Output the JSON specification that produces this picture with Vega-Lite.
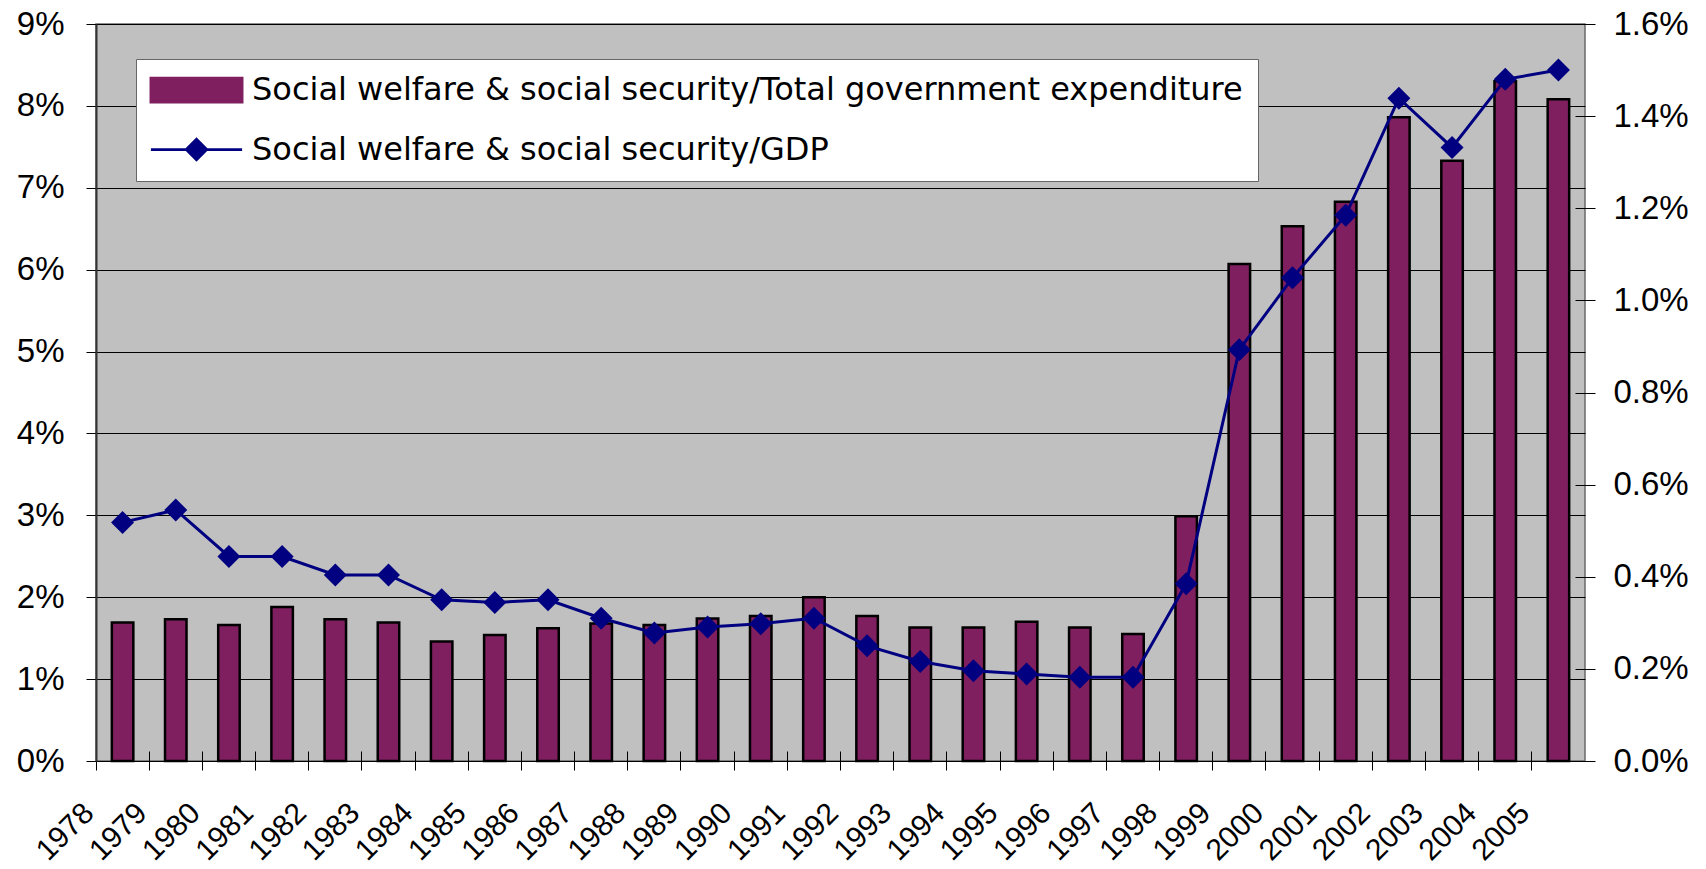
{
  "$schema": "https://vega.github.io/schema/vega-lite/v6.json",
  "width": 1489,
  "height": 737,
  "autosize": "none",
  "padding": {"left": 96, "top": 24, "right": 121, "bottom": 108},
  "background": "white",
  "config": {
    "font": "Liberation Sans",
    "view": {"fill": "#C0C0C0", "stroke": "#6A6A6A", "strokeWidth": 1.5},
    "axis": {"labelFont": "Liberation Sans", "labelFontSize": 33, "labelColor": "black", "titleFontSize": 20}
  },
  "data": {
    "values": [
      {"year": "1978", "exp": 1.69, "gdp": 0.518},
      {"year": "1979", "exp": 1.73, "gdp": 0.545},
      {"year": "1980", "exp": 1.66, "gdp": 0.444},
      {"year": "1981", "exp": 1.88, "gdp": 0.444},
      {"year": "1982", "exp": 1.73, "gdp": 0.404},
      {"year": "1983", "exp": 1.69, "gdp": 0.404},
      {"year": "1984", "exp": 1.46, "gdp": 0.350},
      {"year": "1985", "exp": 1.54, "gdp": 0.344},
      {"year": "1986", "exp": 1.62, "gdp": 0.350},
      {"year": "1987", "exp": 1.68, "gdp": 0.310},
      {"year": "1988", "exp": 1.66, "gdp": 0.278},
      {"year": "1989", "exp": 1.74, "gdp": 0.291},
      {"year": "1990", "exp": 1.77, "gdp": 0.298},
      {"year": "1991", "exp": 2.00, "gdp": 0.310},
      {"year": "1992", "exp": 1.77, "gdp": 0.250},
      {"year": "1993", "exp": 1.63, "gdp": 0.216},
      {"year": "1994", "exp": 1.63, "gdp": 0.196},
      {"year": "1995", "exp": 1.70, "gdp": 0.189},
      {"year": "1996", "exp": 1.63, "gdp": 0.182},
      {"year": "1997", "exp": 1.55, "gdp": 0.182},
      {"year": "1998", "exp": 2.99, "gdp": 0.385},
      {"year": "1999", "exp": 6.07, "gdp": 0.893},
      {"year": "2000", "exp": 6.53, "gdp": 1.049},
      {"year": "2001", "exp": 6.83, "gdp": 1.185},
      {"year": "2002", "exp": 7.86, "gdp": 1.439},
      {"year": "2003", "exp": 7.33, "gdp": 1.332},
      {"year": "2004", "exp": 8.30, "gdp": 1.480},
      {"year": "2005", "exp": 8.08, "gdp": 1.500}
    ]
  },
  "encoding": {
    "x": {
      "field": "year",
      "type": "ordinal",
      "scale": {"paddingInner": 0, "paddingOuter": 0},
      "axis": {
        "title": null,
        "bandPosition": 0,
        "offset": -10,
        "domain": false,
        "labelAngle": -45,
        "labelAlign": "right",
        "labelBaseline": "middle",
        "labelFontSize": 30,
        "labelOffset": -33.5,
        "labelPadding": 38,
        "tickSize": 19,
        "tickColor": "black",
        "grid": false
      }
    }
  },
  "layer": [
    {
      "mark": {"type": "bar", "stroke": "black", "strokeWidth": 2.5, "size": 21.5},
      "encoding": {
        "y": {
          "field": "exp",
          "type": "quantitative",
          "scale": {"domain": [0, 9], "nice": false},
          "axis": {
            "orient": "left",
            "title": null,
            "values": [0, 1, 2, 3, 4, 5, 6, 7, 8, 9],
            "labelExpr": "datum.value + '%'",
            "grid": true,
            "gridColor": "black",
            "gridWidth": 1,
            "domainColor": "#333333",
            "domainWidth": 2,
            "tickColor": "black",
            "tickSize": 10,
            "labelPadding": 22
          }
        },
        "color": {
          "datum": "Social welfare & social security/Total government expenditure",
          "type": "nominal",
          "scale": {
            "domain": ["Social welfare & social security/Total government expenditure", "Social welfare & social security/GDP"],
            "range": ["#7F1F5F", "#000080"]
          },
          "legend": {
            "title": null,
            "orient": "none",
            "legendX": 40,
            "legendY": 35,
            "fillColor": "white",
            "strokeColor": "#666666",
            "padding": 15,
            "labelFont": "DejaVu Sans",
            "labelFontSize": 32,
            "labelColor": "black",
            "labelLimit": 1200,
            "symbolSize": 576,
            "symbolOffset": 29.5,
            "labelOffset": 39.5,
            "rowPadding": 25.5,
            "symbolStrokeWidth": 2.75,
            "symbolType": {"expr": "indexof(datum.label, 'GDP') >= 0 ? 'M-3.8,0H-0.85M0,-0.85L0.85,0L0,0.85L-0.85,0ZM0.85,0H3.8' : 'M-3.8,-1H3.8V1H-3.8Z'"},
            "symbolFillColor": {"expr": "indexof(datum.label, 'GDP') >= 0 ? '#000080' : '#7F1F5F'"},
            "symbolStrokeColor": {"expr": "indexof(datum.label, 'GDP') >= 0 ? '#000080' : 'black'"},
            "encode": {
              "legend": {"strokeWidth": {"value": 1.5}}
            }
          }
        }
      }
    },
    {
      "mark": {
        "type": "line",
        "strokeWidth": 3,
        "point": {"shape": "diamond", "size": 529, "filled": true}
      },
      "encoding": {
        "y": {
          "field": "gdp",
          "type": "quantitative",
          "scale": {"domain": [0, 1.6], "nice": false},
          "axis": {
            "orient": "right",
            "title": null,
            "offset": -10,
            "domain": false,
            "values": [0, 0.2, 0.4, 0.6, 0.8, 1.0, 1.2, 1.4, 1.6],
            "format": ".1f",
            "labelExpr": "datum.label + '%'",
            "grid": false,
            "tickColor": "black",
            "tickSize": 20,
            "labelPadding": 18
          }
        },
        "color": {"datum": "Social welfare & social security/GDP", "type": "nominal"}
      }
    }
  ],
  "resolve": {"scale": {"y": "independent"}}
}
